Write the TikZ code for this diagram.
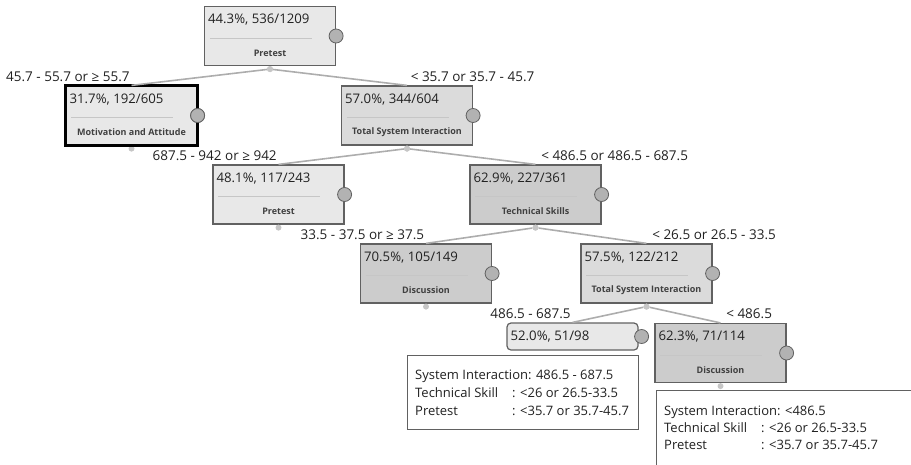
\documentclass[tikz,border=0pt]{standalone}
\usepackage{fontspec}
\setmainfont{Open Sans}
\usepackage{tikz}
\usetikzlibrary{positioning, calc}

\definecolor{boxlight}{gray}{0.91}
\definecolor{boxmid}{gray}{0.86}
\definecolor{boxdark}{gray}{0.80}
\definecolor{rimgray}{gray}{0.38}
\definecolor{edgegray}{gray}{0.68}
\definecolor{inkgray}{gray}{0.13}

% one split box: name, centre, fill, share, splitting variable
\newcommand{\treebox}[5]{%
  \node[tree, fill=#3] (#1) at (#2) {};
  \node[pct] (#1pct) at ([shift={(4pt,-8pt)}]#1.north west) {#4};
  \draw[sep] ([shift={(6pt,-32pt)}]#1.north west) -- ++(102,0);
  \node[var] (#1var) at ([yshift=13pt]#1.south) {#5};
  \node[knob] (#1knob) at (#1.east) {};
  \node[dot] (#1dot) at ([yshift=-3pt]#1.south) {};
}
% key column of the rule summaries
\newcommand{\rulekey}[1]{\makebox[97pt][l]{#1}}

\begin{document}
\begin{tikzpicture}[x=1pt, y=-1pt, inner sep=0pt, text=inkgray,
  tree/.style={draw=rimgray, line width=1.2pt, minimum width=131pt, minimum height=59pt},
  pct/.style={anchor=north west, font=\fontsize{13.2}{15}\selectfont},
  var/.style={font=\fontsize{9}{10}\selectfont\bfseries, text=black!75},
  sep/.style={gray!45, line width=0.8pt},
  knob/.style={circle, draw=rimgray, fill=gray!60, line width=0.8pt, minimum size=14pt},
  dot/.style={circle, fill=gray!45, minimum size=6pt},
  branch/.style={edgegray, line width=1.6pt},
  cut/.style={font=\fontsize{13.5}{15}\selectfont, text=inkgray, inner sep=1pt},
  info/.style={draw=rimgray, line width=0.8pt, fill=white},
  rule/.style={anchor=west, font=\fontsize{13}{18}\selectfont}]
  \clip (0,0) rectangle (911,464);

  %--- splits ---
  \treebox{root}{270,36}{boxlight}{44.3\%, 536/1209}{Pretest}
  \treebox{motiv}{131.5,115.5}{boxlight}{31.7\%, 192/605}{Motivation and Attitude}
  \draw[black, line width=2.4pt] (motiv.north west) rectangle (motiv.south east);
  \node[knob] at (motiv.east) {};
  \treebox{tsione}{407,115.5}{boxmid}{57.0\%, 344/604}{Total System Interaction}
  \treebox{pretwo}{278.5,194.5}{boxlight}{48.1\%, 117/243}{Pretest}
  \treebox{techsk}{535.5,194.5}{boxdark}{62.9\%, 227/361}{Technical Skills}
  \treebox{discone}{426,273.5}{boxdark}{70.5\%, 105/149}{Discussion}
  \treebox{tsitwo}{646.5,273.5}{boxmid}{57.5\%, 122/212}{Total System Interaction}
  \treebox{disctwo}{720.5,353}{boxdark}{62.3\%, 71/114}{Discussion}

  % leaf without a split
  \node[tree, fill=boxlight, minimum height=27pt, rounded corners=4pt] (leaf) at (572.5,336.5) {};
  \node[pct, anchor=west] (leafpct) at ([xshift=4pt]leaf.west) {52.0\%, 51/98};
  \node[knob] (leafknob) at ([xshift=3pt]leaf.east) {};

  %--- branches with their cut values ---
  \draw[branch] (rootdot) -- (motiv.north)
    node[cut, pos=1, anchor=south east, yshift=2pt] (cutmotiv) {45.7 - 55.7 or ≥ 55.7};
  \draw[branch] (rootdot) -- (tsione.north)
    node[cut, pos=1, anchor=south west, yshift=2pt, xshift=2pt] (cuttsione) {< 35.7 or 35.7 - 45.7};
  \draw[branch] (tsionedot) -- (pretwo.north)
    node[cut, pos=1, anchor=south east, yshift=2pt] (cutpretwo) {687.5 - 942 or ≥ 942};
  \draw[branch] (tsionedot) -- (techsk.north)
    node[cut, pos=1, anchor=south west, yshift=2pt, xshift=4pt] (cuttechsk) {< 486.5 or 486.5 - 687.5};
  \draw[branch] (techskdot) -- (discone.north)
    node[cut, pos=1, anchor=south east, yshift=2pt] (cutdiscone) {33.5 - 37.5 or ≥ 37.5};
  \draw[branch] (techskdot) -- (tsitwo.north)
    node[cut, pos=1, anchor=south west, yshift=2pt, xshift=4pt] (cuttsitwo) {< 26.5 or 26.5 - 33.5};
  \draw[branch] (tsitwodot) -- (leaf.north)
    node[cut, pos=1, anchor=south east, yshift=2pt] (cutleaf) {486.5 - 687.5};
  \draw[branch] (tsitwodot) -- (disctwo.north)
    node[cut, pos=1, anchor=south west, yshift=2pt, xshift=4pt] (cutdisctwo) {< 486.5};
  % redraw the dots over the branches
  \foreach \n in {root, tsione, techsk, tsitwo} \node[dot] at (\n dot) {};

  %--- rule summaries ---
  \draw[info] (407,355) rectangle (638,429);
  \coordinate (infoone) at (415,394);
  \node[rule] (ruleone) at (infoone) {%
    \begin{tabular}{@{}l@{}}
      System Interaction: 486.5 - 687.5\\
      \rulekey{Technical Skill}: <26 or 26.5-33.5\\
      \rulekey{Pretest}: <35.7 or 35.7-45.7
    \end{tabular}};
  \draw[info] (656,390) rectangle (930,480);
  \coordinate (infotwo) at (664,429);
  \node[rule, font=\fontsize{13}{17}\selectfont] (ruletwo) at (infotwo) {%
    \begin{tabular}{@{}l@{}}
      System Interaction: <486.5\\
      \rulekey{Technical Skill}: <26 or 26.5-33.5\\
      \rulekey{Pretest}: <35.7 or 35.7-45.7
    \end{tabular}};
\end{tikzpicture}
\end{document}
